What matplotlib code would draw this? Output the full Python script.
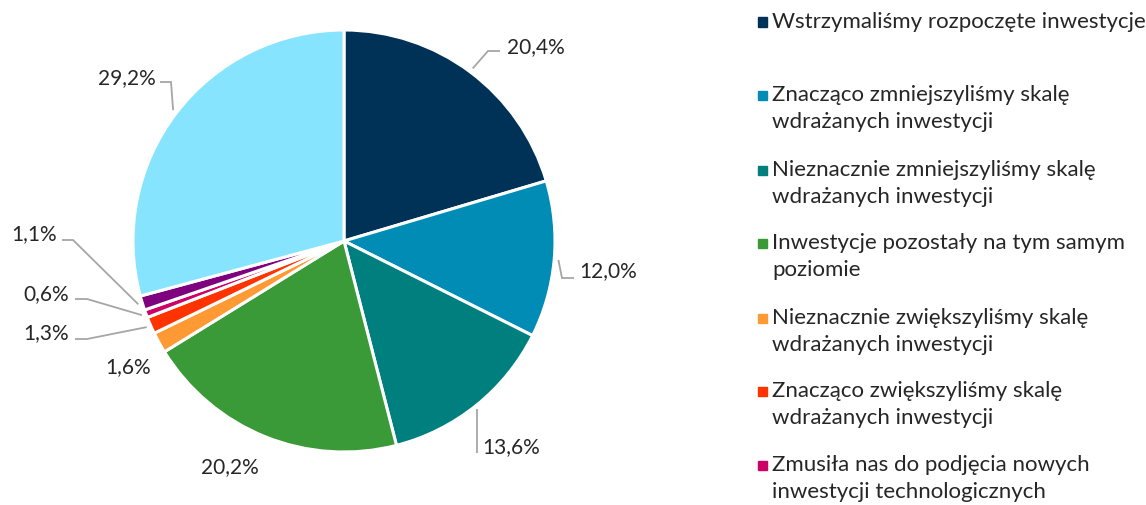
import numpy as np
import matplotlib
matplotlib.use("Agg")
import matplotlib.pyplot as plt

plt.rcParams['font.family'] = ['Lato', 'DejaVu Sans']

categories = [
    "Wstrzymaliśmy rozpoczęte inwestycje",
    "Znacząco zmniejszyliśmy skalę\nwdrażanych inwestycji",
    "Nieznacznie zmniejszyliśmy skalę\nwdrażanych inwestycji",
    "Inwestycje pozostały na tym samym\npoziomie",
    "Nieznacznie zwiększyliśmy skalę\nwdrażanych inwestycji",
    "Znacząco zwiększyliśmy skalę\nwdrażanych inwestycji",
    "Zmusiła nas do podjęcia nowych\ninwestycji technologicznych",
    "",
    "",
]
values = [20.4, 12.0, 13.6, 20.2, 1.6, 1.3, 0.6, 1.1, 29.2]
colors = ["#003257", "#008CB4", "#007F7F", "#3A9A37", "#FF9933",
          "#FF3300", "#CC0066", "#7F007F", "#87E4FF"]
n_legend = 7  # entries visible in the legend

W, H = 1146, 505
cx, cy, R = 344, 241, 211


def px(x, y):
    # pixel position -> pie units (radius 1)
    return (x - cx) / R, (cy - y) / R


# label centres (pixels) and leader line elbow/end (pixels, None = no line)
label_px = [(536, 47), (608, 271), (511, 447), (230, 467), (128, 367),
            (46, 333), (46, 294), (34, 234), (127, 78)]
leader_px = [[(488, 51), (500, 51)],
             [(562, 278), (574, 278)],
             [(477, 453)],
             None, None,
             [(87, 339), (75, 339)],
             [(87, 299), (75, 299)],
             [(73, 240), (62, 240)],
             [(171, 82), (160, 82)]]

fig = plt.figure(figsize=(W / 100, H / 100), dpi=100)
ax = fig.add_axes([0, 0, 1, 1])
ax.axis('off')

wedges, _ = ax.pie(values, colors=colors, startangle=90, counterclock=False,
                   radius=1.0, wedgeprops=dict(edgecolor='white', linewidth=2.2))
ax.set_aspect('auto')
ax.set_xlim(-cx / R, (W - cx) / R)
ax.set_ylim(-(H - cy) / R, cy / R)

for i, w in enumerate(wedges):
    txt = ("%.1f%%" % values[i]).replace('.', ',')
    tx, ty = px(*label_px[i])
    ax.text(tx, ty, txt, ha='center', va='center', fontsize=15, color='#262626')
    if leader_px[i] is not None:
        ang = np.deg2rad((w.theta1 + w.theta2) / 2)
        xs = [1.02 * np.cos(ang)]
        ys = [1.02 * np.sin(ang)]
        for p in leader_px[i]:
            u, v = px(*p)
            xs.append(u)
            ys.append(v)
        if len(leader_px[i]) == 1:
            xs[0] = xs[1]
        ax.plot(xs, ys, color='#A6A6A6', lw=1.3, solid_capstyle='butt',
                solid_joinstyle='miter')

# legend
ys = [22, 95, 170, 243, 318, 391, 465]
for i, y in enumerate(ys[:n_legend]):
    fig.patches.append(plt.Rectangle(((762 - 4.5) / W, 1 - (y + 4.5) / H), 9 / W, 9 / H,
                                     transform=fig.transFigure, color=colors[i]))
    fig.text(772 / W, 1 - (y - 10) / H, categories[i], ha='left', va='top',
             fontsize=16, color='#262626', linespacing=1.45)

fig.savefig("out.png", dpi=100)
